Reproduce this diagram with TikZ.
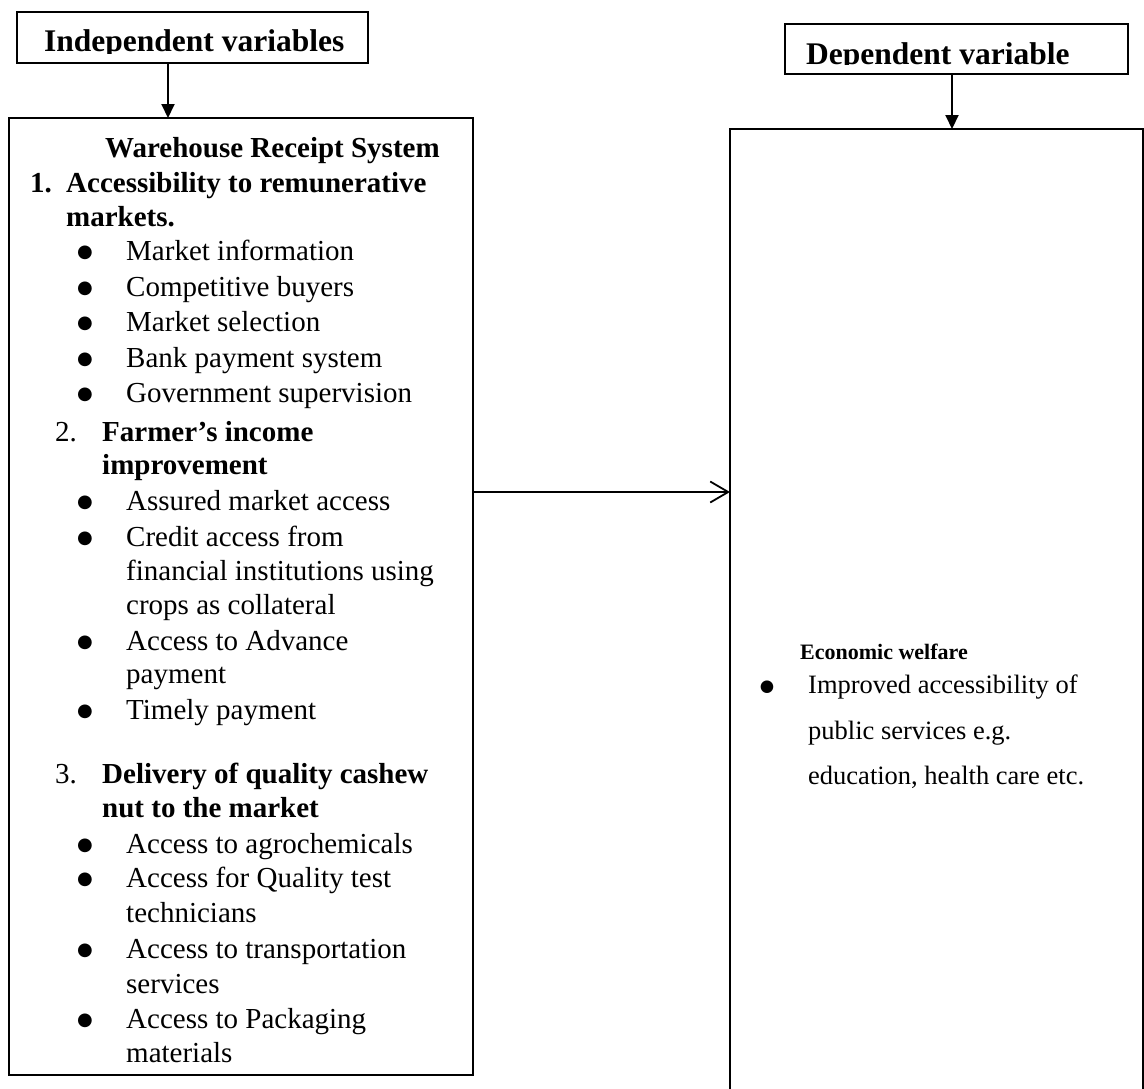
\documentclass[tikz,border=0pt]{standalone}
\usepackage{fontspec}
\setmainfont{Liberation Serif}
\newfontfamily\bulfont{DejaVu Sans}
\usetikzlibrary{arrows.meta}
\tikzset{
  box/.style={draw, line width=1.8pt, inner sep=0pt, outer sep=0pt},
  hd/.style={anchor=base west, inner sep=0pt, font=\fontsize{31.5}{36}\selectfont\bfseries},
  bt/.style={anchor=base west, inner sep=0pt, font=\fontsize{29}{35}\selectfont},
  bb/.style={bt, font=\fontsize{29}{35}\selectfont\bfseries},
  bul/.style={anchor=center, inner sep=0pt, font=\bulfont\fontsize{18}{19}\selectfont},
  rt/.style={anchor=base west, inner sep=0pt, font=\fontsize{26.5}{45}\selectfont},
  rb/.style={anchor=base west, inner sep=0pt, font=\fontsize{22}{26}\selectfont\bfseries},
  rbul/.style={anchor=center, inner sep=0pt, font=\bulfont\fontsize{16.5}{17}\selectfont},
  dn/.style={line width=2pt, -{Triangle[length=14pt,width=13pt]}},
  rt arrow/.style={line width=1.8pt, -{Straight Barb[length=18pt,width=21pt,line width=1.8pt]}}
}
\begin{document}
\begin{tikzpicture}[x=1pt,y=-1pt]
\useasboundingbox (0,0) rectangle (1144,1088);
\begin{scope}
\clip (0,0) rectangle (1144,1088);
% boxes
\node[box, minimum width=351pt, minimum height=51pt] (indep) at (192.5,37.5) {};
\node[box, minimum width=343pt, minimum height=50pt] (dep) at (956.5,49) {};
\node[box, minimum width=464pt, minimum height=957pt] (wrs) at (241,596.5) {};
\node[box, minimum width=413pt, minimum height=975pt] (ew) at (936.5,616.5) {};
\end{scope}
% header texts (clipped at bottom like the reference)
\begin{scope}
\clip (18,12) rectangle (367,53.5);
\node[hd] (th1) at (44,51) {Independent variables};
\end{scope}
\begin{scope}
\clip (786,25) rectangle (1127,64.5);
\node[hd] (th2) at (806,64) {Dependent variable};
\end{scope}
% connectors
\coordinate (ax1) at (168,0);
\coordinate (ax2) at (952,0);
\coordinate (ay) at (0,492);
\draw[dn] (indep.south -| ax1) -- (wrs.north -| ax1);
\draw[dn] (dep.south -| ax2) -- (ew.north -| ax2);
\draw[rt arrow] (wrs.east |- ay) -- (ew.west |- ay);
% left box text
\node[bb] (l0) at (105,157) {Warehouse Receipt System};
\node[bb] (n1) at (30,192) {1.};
\node[bb] (l1) at (66,192) {Accessibility to remunerative};
\node[bb] (l2) at (66,226) {markets.};
\node[bul] (b1) at (85,253) {●};
\node[bt] (l3) at (126,260) {Market information};
\node[bul] (b2) at (85,289) {●};
\node[bt] (l4) at (126,296) {Competitive buyers};
\node[bul] (b3) at (85,324) {●};
\node[bt] (l5) at (126,331) {Market selection};
\node[bul] (b4) at (85,360) {●};
\node[bt] (l6) at (126,367) {Bank payment system};
\node[bul] (b5) at (85,395) {●};
\node[bt] (l7) at (126,402) {Government supervision};
\node[bt] (n2) at (55,441) {2.};
\node[bb] (l8) at (102,441) {Farmer’s income};
\node[bb] (l9) at (102,474) {improvement};
\node[bul] (b6) at (85,503) {●};
\node[bt] (l10) at (126,510) {Assured market access};
\node[bul] (b7) at (85,539) {●};
\node[bt] (l11) at (126,546) {Credit access from};
\node[bt] (l12) at (126,580) {financial institutions using};
\node[bt] (l13) at (126,614) {crops as collateral};
\node[bul] (b8) at (85,643) {●};
\node[bt] (l14) at (126,650) {Access to Advance};
\node[bt] (l15) at (126,683) {payment};
\node[bul] (b9) at (85,712) {●};
\node[bt] (l16) at (126,719) {Timely payment};
\node[bt] (n3) at (55,783) {3.};
\node[bb] (l17) at (102,783) {Delivery of quality cashew};
\node[bb] (l18) at (102,817) {nut to the market};
\node[bul] (b10) at (85,846) {●};
\node[bt] (l19) at (126,853) {Access to agrochemicals};
\node[bul] (b11) at (85,880) {●};
\node[bt] (l20) at (126,887) {Access for Quality test};
\node[bt] (l21) at (126,922) {technicians};
\node[bul] (b12) at (85,951) {●};
\node[bt] (l22) at (126,958) {Access to transportation};
\node[bt] (l23) at (126,993) {services};
\node[bul] (b13) at (85,1021) {●};
\node[bt] (l24) at (126,1028) {Access to Packaging};
\node[bt] (l25) at (126,1062) {materials};
% right box text
\node[rb] (r0) at (800,659) {Economic welfare};
\node[rbul] (rb1) at (767,687) {●};
\node[rt] (r1) at (808,693) {Improved accessibility of};
\node[rt] (r2) at (808,739) {public services e.g.};
\node[rt] (r3) at (808,784) {education, health care etc.};
\end{tikzpicture}
\end{document}
